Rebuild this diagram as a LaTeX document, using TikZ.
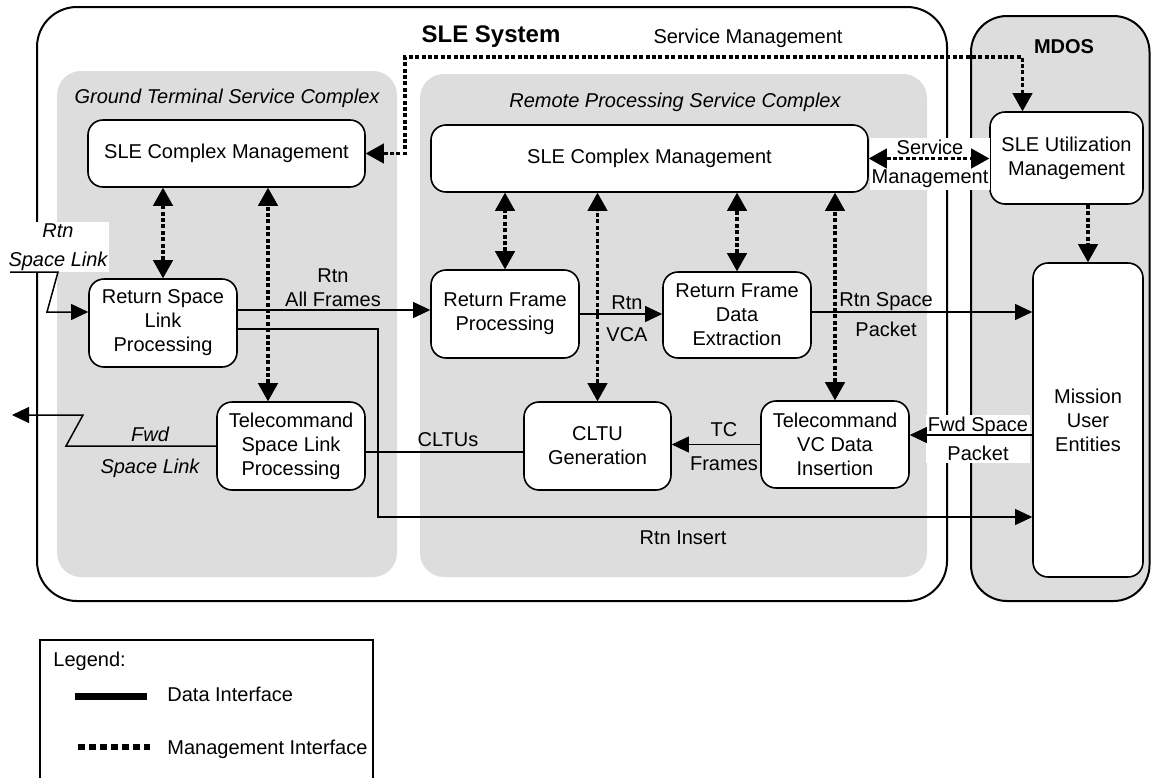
\documentclass[tikz,border=0pt]{standalone}
\usepackage{fontspec}
\setmainfont{Liberation Sans}
\usepackage{tikz}
\usetikzlibrary{positioning, arrows.meta, calc}
\definecolor{slegrey}{HTML}{DDDDDD}

\tikzset{
  block/.style={draw, rounded corners=7.5pt, fill=white, align=center, inner sep=0pt, line width=0.8pt},
  complex/.style={fill=slegrey, rounded corners=12pt},
  datalink/.style={line width=0.75pt, >={Triangle[length=8.5pt,width=8pt,line width=0.4pt]}, ->},
  mgmtlink/.style={line width=1.8pt, dash pattern=on 2pt off 1.2pt, >={Triangle[length=9pt,width=10pt,line width=0.4pt]}, <->},
  lbl/.style={align=center, inner sep=1pt},
  whitelbl/.style={lbl, fill=white},
}

\begin{document}
\begin{tikzpicture}[x=0.5pt, y=-0.5pt]
  \useasboundingbox (0,0) rectangle (1151,777);

  % containers
  \draw[line width=1pt, rounded corners=20pt] (37,7) rectangle (947,601);
  \draw[line width=1pt, fill=slegrey, rounded corners=18pt] (971,16) rectangle (1149.5,601);
  \fill[complex] (57,71) rectangle (397,577);
  \fill[complex] (420,74) rectangle (927,577);

  \node[font=\bfseries\fontsize{12}{14}\selectfont] (sysname) at (491,37) {SLE System};
  \node[font=\bfseries] (mdosname) at (1064,47) {MDOS};
  \node[font=\itshape] (gtitle) at (227,98) {Ground Terminal Service Complex};
  \node[font=\itshape] (rtitle) at (675,102) {Remote Processing Service Complex};
  \node (smtitle) at (748,38) {Service Management};

  % functions
  \node[block, minimum width=138.5pt, minimum height=33.5pt] (gcm) at (226.5,153.5) {SLE Complex Management};
  \node[block, minimum width=218.5pt, minimum height=33.5pt] (rcm) at (649.5,158.5) {SLE Complex Management};
  \node[block, minimum width=74pt, minimum height=44pt] (rslp) at (163,323) {Return Space\\Link\\Processing};
  \node[block, minimum width=74pt, minimum height=44pt] (tcslp) at (291,446) {Telecommand\\Space Link\\Processing};
  \node[block, minimum width=74pt, minimum height=44pt] (rfp) at (505,314) {Return Frame\\Processing};
  \node[block, minimum width=74pt, minimum height=43pt] (rfde) at (737,315) {Return Frame\\Data\\Extraction};
  \node[block, minimum width=73.5pt, minimum height=44pt] (cltu) at (597.5,446) {CLTU\\Generation};
  \node[block, minimum width=74pt, minimum height=43.5pt] (tcvc) at (835,444.5) {Telecommand\\VC Data\\Insertion};
  \node[block, minimum width=76.5pt, minimum height=46pt] (util) at (1066.5,158) {SLE Utilization\\Management};
  \node[block, minimum width=55pt, minimum height=157pt] (mue) at (1088,420) {Mission\\User\\Entities};

  % labels
  \node[whitelbl, font=\itshape] (rsllbl) at (58,247) {Rtn\\[2.5pt]Space Link};
  \node[whitelbl] (smlbl) at (930,164) {Service\\[2.5pt]Management};
  \node[whitelbl] (fsplbl) at (978,439) {Fwd Space\\[2.5pt]Packet};
  \node[lbl] (rafl) at (333,288) {Rtn\\All Frames};
  \node[lbl] (vcal) at (627,319) {Rtn\\[4pt]VCA};
  \node[lbl] (rspl) at (886,315) {Rtn Space\\[3pt]Packet};
  \node[lbl] (tcfl) at (724,447) {TC\\[5pt]Frames};
  \node[lbl, font=\itshape] (fsll) at (150,452) {Fwd\\[4pt]Space Link};
  \node[lbl] (cltul) at (448,440) {CLTUs};
  \node[lbl] (insl) at (683,538) {Rtn Insert};

  % data interfaces
  \coordinate (rslin) at (10,272);
  \coordinate (fwdout) at (12,415);
  \coordinate (ins) at (378,517);
  \coordinate (fsp) at ([yshift=4.75pt]tcvc.east);
  \draw[datalink] (rslin) -- ++(48,0) -- ++(-11,40) -- ([yshift=5.5pt]rslp.west);
  \draw[datalink] (tcslp.west) -- (66,446) -- (83,415) -- (fwdout);
  \draw[datalink] ([yshift=6.5pt]rslp.east) -- ([yshift=6.5pt]rslp.east -| rfp.west);
  \draw[datalink] ([yshift=-3pt]rslp.east) -| (ins) -- (ins -| mue.west);
  \draw[datalink, -] ([yshift=-3pt]cltu.west) -- ([yshift=-3pt]cltu.west -| tcslp.east);
  \draw[datalink] (tcvc.west) -- (tcvc.west -| cltu.east);
  \draw[datalink] (rfp.east) -- (rfp.east -| rfde.west);
  \draw[datalink] ([yshift=1.5pt]rfde.east) -- ([yshift=1.5pt]rfde.east -| mue.west);
  \draw[datalink] (fsp -| mue.west) -- (fsp);

  % management interfaces
  \coordinate (sm) at (405,57);
  \coordinate (tcm) at ([xshift=-11.5pt]tcslp.north);
  \draw[mgmtlink] (gcm.east) -| (sm) -| ([xshift=-22pt]util.north);
  \draw[mgmtlink] (rslp.north) -- (rslp.north |- gcm.south);
  \draw[mgmtlink] (tcm) -- (tcm |- gcm.south);
  \draw[mgmtlink] (rfp.north) -- (rfp.north |- rcm.south);
  \draw[mgmtlink] (cltu.north) -- (cltu.north |- rcm.south);
  \draw[mgmtlink] (rfde.north) -- (rfde.north |- rcm.south);
  \draw[mgmtlink] (tcvc.north) -- (tcvc.north |- rcm.south);
  \draw[mgmtlink] (rcm.east) -- (rcm.east -| util.west);
  \draw[mgmtlink, ->] (mue.north |- util.south) -- (mue.north);

  % legend
  \draw[line width=1pt] (40,640) rectangle (373,800);
  \node[lbl, anchor=west] (leg) at (51,661) {Legend:};
  \draw[line width=3.5pt] (75,696) -- (147,696);
  \node[lbl, anchor=west] (legdata) at (165,694) {Data Interface};
  \draw[line width=3pt, dash pattern=on 3.5pt off 2pt] (78,747) -- (150,747);
  \node[lbl, anchor=west] (legmgmt) at (165,749) {Management Interface};
\end{tikzpicture}
\end{document}
